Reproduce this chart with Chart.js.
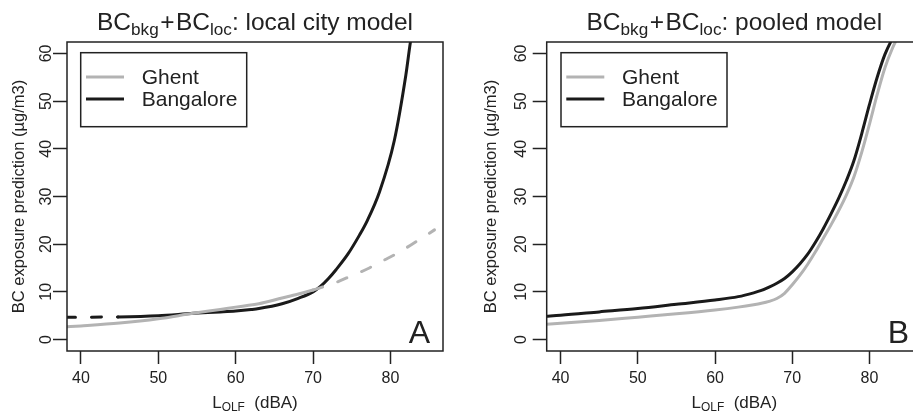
<!DOCTYPE html>
<html>
<head>
<meta charset="utf-8">
<script src="https://cdn.jsdelivr.net/npm/chart.js@4"></script>
<style>
  html, body { margin: 0; padding: 0; background: #fff; overflow: hidden; }
  #wrap { position: relative; width: 913px; height: 412px; overflow: hidden; }
  #chartA { position: absolute; left: 0; top: 0; }
  #chartB { position: absolute; left: 456px; top: 0; }
</style>
</head>
<body>
<div id="wrap">
  <canvas id="chartA" width="456" height="412"></canvas>
  <canvas id="chartB" width="468" height="412"></canvas>
</div>
<script>
const GREY = '#b3b3b3';
const BLACK = '#1a1a1a';
const INK = '#222222';
const FONT = "'Liberation Sans', Arial, Helvetica, sans-serif";

const cities = ['Ghent', 'Bangalore'];
const cityColors = [GREY, BLACK];
const xTicks = [40, 50, 60, 70, 80];
const yTicks = [0, 10, 20, 30, 40, 50, 60];
const xRange = [38.2, 86.8];
const yRange = [-2.4, 62.4];

// A: local city model (dashed = outside the range the model was fitted on)
const ghentLocalX = [38, 40, 45, 50, 54.5, 58, 60, 63, 66, 68, 70, 71, 73, 75, 77, 79, 81, 83, 85.7];
const ghentLocalY = [2.65, 2.85, 3.45, 4.35, 5.5, 6.3, 6.8, 7.5, 8.7, 9.5, 10.4, 10.9, 12.0, 13.4, 14.8, 16.5, 18.2, 20.2, 23.0];
const ghentLocalFitMax = 70;

const bangaloreLocalX = [38, 40, 44.8, 50, 54.5, 58, 60, 62, 63, 66, 68, 70, 71, 72, 73, 74.5, 76, 77, 78.6, 80.5, 82, 82.6, 83.2];
const bangaloreLocalY = [4.7, 4.7, 4.75, 5.0, 5.5, 5.8, 6.0, 6.3, 6.5, 7.5, 8.6, 10.0, 11.2, 12.8, 14.7, 17.9, 21.9, 24.9, 31.0, 41.7, 55.5, 62.5, 68.0];
const bangaloreLocalFitMin = 44.8;

// B: pooled model
const pooledX = [38, 40, 45, 50, 55, 60, 63, 65, 66, 67, 68, 69, 70, 71, 72, 73, 74, 75, 76, 77, 78, 79, 80, 81, 82, 83, 84];
const ghentPooledY = [3.2, 3.4, 4.0, 4.7, 5.4, 6.2, 6.8, 7.3, 7.6, 8.0, 8.6, 9.7, 11.5, 13.5, 15.8, 18.4, 21.2, 24.0, 27.0, 30.3, 34.2, 39.3, 45.2, 51.4, 57.0, 61.2, 64.5];
const bangalorePooledY = [4.9, 5.1, 5.8, 6.5, 7.4, 8.3, 9.0, 9.8, 10.3, 11.0, 11.8, 12.8, 14.2, 15.9, 17.9, 20.4, 23.2, 26.3, 29.6, 33.3, 37.6, 43.2, 49.3, 55.0, 59.8, 63.2, 66.0];

const DASH = [10, 16];

function pts(xs, ys) {
  return xs.map((x, i) => ({ x: x, y: ys[i] }));
}

function line(label, color, data, dashWhen) {
  const ds = {
    label: label,
    data: data,
    borderColor: color,
    borderWidth: 3,
    borderCapStyle: 'round',
    pointRadius: 0,
    fill: false,
    cubicInterpolationMode: 'monotone',
    clip: 0
  };
  if (dashWhen) {
    ds.segment = { borderDash: ctx => dashWhen(ctx.p0.parsed.x, ctx.p1.parsed.x) ? DASH : undefined };
  }
  return ds;
}

// title / axis title with subscripts drawn part by part
function drawRich(ctx, parts, cx, baseline, size) {
  const sub = size * 0.7;
  const widths = parts.map(p => {
    ctx.font = (p.sub ? sub : size) + 'px ' + FONT;
    return ctx.measureText(p.text).width + (p.pad || 0) * 2;
  });
  let x = cx - widths.reduce((s, w) => s + w, 0) / 2;
  ctx.textAlign = 'left';
  ctx.textBaseline = 'alphabetic';
  parts.forEach((p, i) => {
    ctx.font = (p.sub ? sub : size) + 'px ' + FONT;
    ctx.fillText(p.text, x + (p.pad || 0), baseline + (p.sub ? size * 0.2 : 0));
    x += widths[i];
  });
}

const panelDecor = {
  id: 'panelDecor',
  afterDatasetsDraw(chart, args, o) {
    const { ctx, chartArea: a } = chart;
    ctx.save();
    ctx.strokeStyle = INK;
    ctx.lineWidth = 1.5;
    ctx.strokeRect(a.left, a.top, a.right - a.left, a.bottom - a.top);

    // legend box
    const lx = a.left + o.legendDx, ly = a.top + 10.7;
    ctx.fillStyle = '#fff';
    ctx.fillRect(lx, ly, 166, 74);
    ctx.strokeRect(lx, ly, 166, 74);
    cities.forEach((c, i) => {
      const y = ly + 24.3 + i * 22;
      ctx.strokeStyle = cityColors[i];
      ctx.lineWidth = 3;
      ctx.beginPath();
      ctx.moveTo(lx + 5.3, y);
      ctx.lineTo(lx + 43.3, y);
      ctx.stroke();
      ctx.fillStyle = INK;
      ctx.font = '21px ' + FONT;
      ctx.textAlign = 'left';
      ctx.textBaseline = 'middle';
      ctx.fillText(c, lx + 61, y + 1);
    });

    ctx.fillStyle = INK;
    ctx.font = '32px ' + FONT;
    ctx.textAlign = 'right';
    ctx.textBaseline = 'alphabetic';
    ctx.fillText(o.letter, a.right - 13, a.bottom - 8);

    const cx = (a.left + a.right) / 2;
    drawRich(ctx, o.title, cx, 30, 24.5);
    drawRich(ctx, [{ text: 'L' }, { text: 'OLF', sub: true }, { text: '  (dBA)' }], cx, 408, 17);
    ctx.restore();
  }
};

function makePanel(id, datasets, p) {
  return new Chart(document.getElementById(id), {
    type: 'line',
    data: { datasets: datasets },
    plugins: [panelDecor],
    options: {
      responsive: false,
      animation: false,
      devicePixelRatio: 1,
      layout: { padding: { top: 42, right: p.padRight, left: 0, bottom: 0 } },
      plugins: {
        legend: { display: false },
        title: { display: false },
        tooltip: { enabled: false },
        panelDecor: { letter: p.letter, title: p.title, legendDx: p.legendDx }
      },
      scales: {
        x: {
          type: 'linear',
          min: xRange[0],
          max: xRange[1],
          afterBuildTicks: s => { s.ticks = xTicks.map(v => ({ value: v })); },
          afterFit: s => { s.height = 61; },
          border: { display: false },
          grid: { drawOnChartArea: false, drawTicks: true, tickLength: 13, tickWidth: 1.5, tickColor: INK },
          ticks: { color: INK, font: { family: FONT, size: 16 }, padding: 5, maxRotation: 0 }
        },
        y: {
          type: 'linear',
          min: yRange[0],
          max: yRange[1],
          afterBuildTicks: s => { s.ticks = yTicks.map(v => ({ value: v })); },
          afterFit: s => { s.width = p.yWidth; },
          border: { display: false },
          grid: { drawOnChartArea: false, drawTicks: true, tickLength: 14, tickWidth: 1.5, tickColor: INK },
          ticks: { color: INK, font: { family: FONT, size: 16 }, padding: p.yTickPad, minRotation: 90, maxRotation: 90, crossAlign: 'center' },
          title: {
            display: true,
            text: 'BC exposure prediction (µg/m3)',
            color: INK,
            font: { family: FONT, size: 16.5 },
            padding: { top: p.yTitlePad, bottom: 0 }
          }
        }
      }
    }
  });
}

const titleParts = [{ text: 'BC' }, { text: 'bkg', sub: true }, { text: '+', pad: 1.5 }, { text: 'BC' }, { text: 'loc', sub: true }];

makePanel('chartA', [
  line('Ghent', GREY, pts(ghentLocalX, ghentLocalY), (x0, x1) => x0 >= ghentLocalFitMax),
  line('Bangalore', BLACK, pts(bangaloreLocalX, bangaloreLocalY), (x0, x1) => x1 <= bangaloreLocalFitMin)
], {
  letter: 'A',
  padRight: 13,
  yWidth: 67,
  yTickPad: -2,
  yTitlePad: 10,
  legendDx: 13.7,
  title: titleParts.concat([{ text: ': local city model' }])
});

makePanel('chartB', [
  line('Ghent', GREY, pts(pooledX, ghentPooledY)),
  line('Bangalore', BLACK, pts(pooledX, bangalorePooledY))
], {
  letter: 'B',
  padRight: 2,
  yWidth: 90.7,
  yTickPad: 2,
  yTitlePad: 25.4,
  legendDx: 14.3,
  title: titleParts.concat([{ text: ': pooled model' }])
});
</script>
</body>
</html>
